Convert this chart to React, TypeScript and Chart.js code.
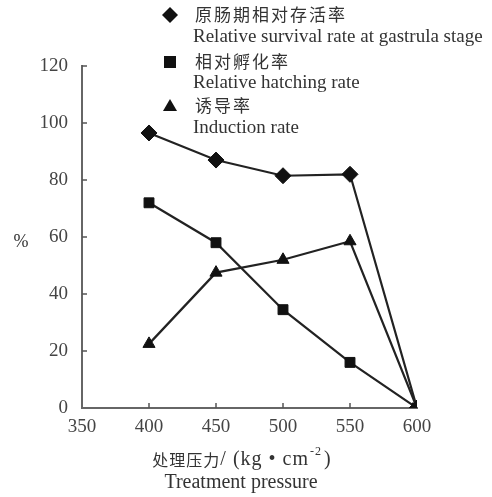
import React, { useEffect, useRef } from "react";
import { Chart, registerables } from "chart.js";

Chart.register(...registerables);

const pressures = [400, 450, 500, 550, 600];
const survivalRate = [96.5, 87, 81.5, 82, 0];
const hatchingRate = [72, 58, 34.5, 16, 0];
const inductionRate = [22.5, 47.5, 52, 58.5, 0];

const legendItems = [
  { style: "rectRot", zh: "原肠期相对存活率", en: "Relative survival rate at gastrula stage" },
  { style: "rect", zh: "相对孵化率", en: "Relative hatching rate" },
  { style: "triangle", zh: "诱导率", en: "Induction rate" },
];

const SERIF = '"Liberation Serif", "DejaVu Serif", serif';
const CJK = '"Noto Sans CJK SC", sans-serif';

function marker(ctx: CanvasRenderingContext2D, style: string, x: number, y: number) {
  ctx.beginPath();
  if (style === "rectRot") {
    const r = 8;
    ctx.moveTo(x, y - r);
    ctx.lineTo(x + r, y);
    ctx.lineTo(x, y + r);
    ctx.lineTo(x - r, y);
    ctx.closePath();
  } else if (style === "rect") {
    const r = 6;
    ctx.rect(x - r, y - r, 2 * r, 2 * r);
  } else {
    const r = 7;
    ctx.moveTo(x, y - r);
    ctx.lineTo(x + r, y + r * 0.7);
    ctx.lineTo(x - r, y + r * 0.7);
    ctx.closePath();
  }
  ctx.fill();
}

const overlayPlugin = {
  id: "overlay",
  afterDraw(chart: any) {
    const ctx = chart.ctx as any;
    const xs = chart.scales.x;
    const ys = chart.scales.y;
    const area = chart.chartArea;
    ctx.save();
    // inward ticks
    ctx.strokeStyle = "#555";
    ctx.lineWidth = 1.5;
    for (const v of [400, 450, 500, 550]) {
      const px = xs.getPixelForValue(v);
      ctx.beginPath();
      ctx.moveTo(px, area.bottom);
      ctx.lineTo(px, area.bottom - 5);
      ctx.stroke();
    }
    for (const v of [20, 40, 60, 80, 100, 120]) {
      const py = ys.getPixelForValue(v);
      ctx.beginPath();
      ctx.moveTo(area.left, py);
      ctx.lineTo(area.left + 5, py);
      ctx.stroke();
    }
    // legend
    const rowsY = [[15, 37], [62, 83], [106, 128]];
    legendItems.forEach((it, i) => {
      const [y1, y2] = rowsY[i];
      ctx.fillStyle = "#111";
      marker(ctx, it.style, 170, y1);
      ctx.fillStyle = "#333";
      ctx.textBaseline = "middle";
      ctx.textAlign = "left";
      ctx.font = `17px ${CJK}`;
      ctx.letterSpacing = "2px";
      ctx.fillText(it.zh, 195, y1);
      ctx.letterSpacing = "0px";
      ctx.font = `19px ${SERIF}`;
      ctx.fillText(it.en, 193, y2);
    });
    // y title
    ctx.font = `18px ${SERIF}`;
    ctx.textAlign = "center";
    ctx.fillText("%", 21, 242);
    // x title
    const cx = 242;
    const zh = "处理压力";
    const part1 = "/ (kg • cm";
    const sup = "-2";
    const part3 = ")";
    ctx.letterSpacing = "1px";
    ctx.font = `16px ${CJK}`;
    const w0 = ctx.measureText(zh).width;
    ctx.font = `20px ${SERIF}`;
    const w1 = ctx.measureText(part1).width;
    const w3 = ctx.measureText(part3).width;
    ctx.font = `12px ${SERIF}`;
    const w2 = ctx.measureText(sup).width;
    let sx = cx - (w0 + w1 + w2 + w3 + 3) / 2;
    ctx.textAlign = "left";
    ctx.font = `16px ${CJK}`;
    ctx.fillText(zh, sx, 460);
    sx += w0;
    ctx.font = `20px ${SERIF}`;
    ctx.fillText(part1, sx, 460);
    sx += w1;
    ctx.font = `12px ${SERIF}`;
    ctx.fillText(sup, sx + 1, 452);
    sx += w2 + 3;
    ctx.font = `20px ${SERIF}`;
    ctx.fillText(part3, sx, 460);
    ctx.letterSpacing = "0px";
    ctx.textAlign = "center";
    ctx.font = `20px ${SERIF}`;
    ctx.fillText("Treatment pressure", 241, 483);
    ctx.restore();
  },
};

export default function App() {
  const ref = useRef<HTMLCanvasElement>(null);
  useEffect(() => {
    if (!ref.current) return;
    const mk = (label: string, values: number[], style: string, radius: number) => ({
      label,
      data: pressures.map((p, i) => ({ x: p, y: values[i] })),
      borderColor: "#222",
      backgroundColor: "#111",
      borderWidth: 2.2,
      pointStyle: style,
      pointRadius: radius,
      pointBorderWidth: 1,
      pointBackgroundColor: "#111",
      pointBorderColor: "#111",
      tension: 0,
    });
    const chart = new Chart(ref.current, {
      type: "line",
      data: {
        datasets: [
          mk(legendItems[0].en, survivalRate, "rectRot", 8),
          mk(legendItems[1].en, hatchingRate, "rect", 7),
          mk(legendItems[2].en, inductionRate, "triangle", 7),
        ],
      },
      options: {
        animation: false,
        responsive: false,
        layout: { padding: { left: 0, right: 75, top: 66, bottom: 0 } },
        plugins: { legend: { display: false }, tooltip: { enabled: false } },
        scales: {
          x: {
            type: "linear",
            min: 350,
            max: 600,
            ticks: { stepSize: 50, color: "#444", font: { family: SERIF, size: 19 }, padding: 0 },
            grid: { display: false },
            border: { display: true, color: "#666", width: 2 },
            afterFit: (s: any) => { s.height = 89; },
          },
          y: {
            min: 0,
            max: 120,
            ticks: { stepSize: 20, color: "#444", font: { family: SERIF, size: 19 }, padding: 6 },
            grid: { display: false },
            border: { display: true, color: "#666", width: 2 },
            afterFit: (s: any) => { s.width = 82; },
          },
        },
      },
      plugins: [overlayPlugin],
    } as any);
    return () => chart.destroy();
  }, []);
  return (
    <div style={{ position: "absolute", left: 0, top: 0, width: 492, height: 497, background: "#fff" }}>
      <canvas ref={ref} width={492} height={497} />
    </div>
  );
}
